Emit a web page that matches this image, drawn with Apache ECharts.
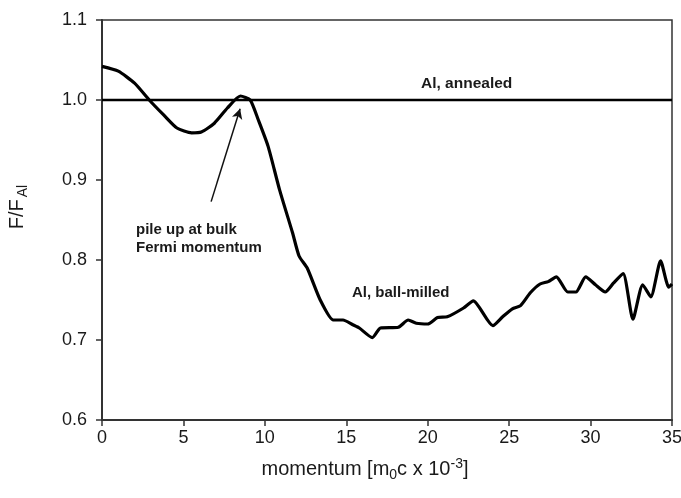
<!DOCTYPE html>
<html>
<head>
<meta charset="utf-8">
<script src="https://cdn.jsdelivr.net/npm/echarts@6/dist/echarts.min.js"></script>
<style>
html,body{margin:0;padding:0;background:#fff;}
#c{width:681px;height:498px;}
</style>
</head>
<body>
<div id="c"></div>
<script>
// ---- data ----
const momentum = [0, 1.0, 2.0, 2.9, 3.8, 4.6, 5.5, 6.1, 6.9, 7.7, 8.5, 9.1, 9.6, 10.2, 10.9, 11.7, 12.1, 12.6, 13.4, 14.2, 14.8, 15.4, 15.8, 16.6, 17.1, 18.2, 18.8, 19.3, 20.0, 20.6, 21.2, 22.2, 22.8, 24.0, 24.6, 25.2, 25.7, 26.3, 26.9, 27.4, 27.9, 28.6, 29.1, 29.7, 30.3, 30.9, 31.4, 32.0, 32.6, 33.2, 33.7, 34.3, 34.8, 35.0];
const ballMilled = [1.042, 1.036, 1.021, 1.0, 0.981, 0.965, 0.959, 0.960, 0.971, 0.990, 1.005, 1.0, 0.975, 0.942, 0.888, 0.834, 0.805, 0.79, 0.75, 0.725, 0.725, 0.719, 0.715, 0.703, 0.715, 0.716, 0.725, 0.721, 0.72, 0.728, 0.729, 0.74, 0.749, 0.718, 0.729, 0.739, 0.743, 0.759, 0.77, 0.773, 0.779, 0.76, 0.76, 0.779, 0.769, 0.76, 0.771, 0.783, 0.726, 0.769, 0.754, 0.799, 0.766, 0.77];
const annealedX = [0, 35];
const annealed = [1.0, 1.0];
const xTicks = [0, 5, 10, 15, 20, 25, 30, 35];
const yTicks = [0.6, 0.7, 0.8, 0.9, 1.0, 1.1];
const arrowTail = [6.7, 0.873];
const arrowHead = [8.48, 0.989];
// ---------------

const FONT = '"Liberation Sans", Arial, sans-serif';
const chart = echarts.init(document.getElementById('c'), null, {renderer: 'canvas'});
const option = {
  animation: false,
  backgroundColor: '#fff',
  grid: {left: 102, right: 9, top: 20, bottom: 78, containLabel: false, outerBoundsMode: 'none',
         show: true, borderColor: '#333', borderWidth: 1.5, backgroundColor: 'transparent'},
  xAxis: {
    type: 'value', min: xTicks[0], max: xTicks[xTicks.length - 1], interval: 5,
    axisLine: {onZero: false, lineStyle: {color: '#333', width: 2}},
    axisTick: {show: true, inside: false, length: 6, lineStyle: {color: '#333', width: 1.5}},
    axisLabel: {color: '#1a1a1a', fontFamily: FONT, fontSize: 18, margin: 9},
    splitLine: {show: false},
    name: 'momentum [m{sub|0}c x 10{sup|-3}]',
    nameLocation: 'middle', nameGap: 37,
    nameTextStyle: {color: '#1a1a1a', fontFamily: FONT, fontSize: 20, padding: [0, 44, 0, 0],
      rich: {sub: {fontSize: 14, fontFamily: FONT, color: '#1a1a1a', verticalAlign: 'bottom', padding: [11, 0, 0, 0]},
             sup: {fontSize: 14, fontFamily: FONT, color: '#1a1a1a', verticalAlign: 'top', padding: [0, 0, 9, 0]}}}
  },
  yAxis: {
    type: 'value', min: yTicks[0], max: yTicks[yTicks.length - 1], interval: 0.1,
    axisLine: {onZero: false, lineStyle: {color: '#333', width: 2}},
    axisTick: {show: true, inside: false, length: 6, lineStyle: {color: '#333', width: 1.5}},
    axisLabel: {color: '#1a1a1a', fontFamily: FONT, fontSize: 18, margin: 15, formatter: v => v.toFixed(1)},
    splitLine: {show: false},
    name: 'F/F{sub|Al}',
    nameLocation: 'middle', nameRotate: 90, nameGap: 72,
    nameTextStyle: {color: '#1a1a1a', fontFamily: FONT, fontSize: 20, padding: [0, 0, 0, 26],
      rich: {sub: {fontSize: 14, fontFamily: FONT, color: '#1a1a1a', verticalAlign: 'bottom', padding: [12, 0, 0, 2]}}}
  },
  series: [
    {
      name: 'Al, annealed', type: 'line', symbol: 'none',
      data: annealedX.map((x, i) => [x, annealed[i]]),
      lineStyle: {color: '#000', width: 2.5}
    },
    {
      name: 'Al, ball-milled', type: 'line', symbol: 'none', smooth: 0.2,
      data: momentum.map((x, i) => [x, ballMilled[i]]),
      lineStyle: {color: '#000', width: 3.2, join: 'round'},
      markLine: {
        silent: true, symbol: ['none', 'arrow'], symbolSize: [8, 10],
        label: {show: false},
        lineStyle: {color: '#111', width: 1.5, type: 'solid'},
        data: [[{coord: arrowTail}, {coord: arrowHead}]]
      }
    }
  ],
  graphic: [
    {type: 'text', left: 421, top: 76, style: {text: 'Al, annealed', font: 'bold 15.5px ' + FONT, fill: '#1a1a1a'}},
    {type: 'text', left: 352, top: 285, style: {text: 'Al, ball-milled', font: 'bold 15px ' + FONT, fill: '#1a1a1a'}},
    {type: 'text', left: 136, top: 221, style: {text: 'pile up at bulk\nFermi momentum', font: 'bold 15px ' + FONT, fill: '#1a1a1a', lineHeight: 18}}
  ]
};
chart.setOption(option);
</script>
</body>
</html>
